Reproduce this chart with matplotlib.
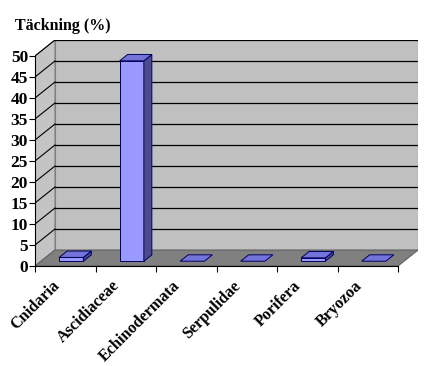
import matplotlib.pyplot as plt
from matplotlib.patches import Polygon

categories = ['Cnidaria', 'Ascidiaceae', 'Echinodermata', 'Serpulidae', 'Porifera', 'Bryozoa']
values = [0.9, 47.7, 0.0, 0.0, 0.8, 0.0]
yticks = list(range(0, 55, 5))

# 3-D depth in data units (x: categories, y: percent)
dx, dy = 0.33, 3.8
n = len(categories)

fig = plt.figure(figsize=(4.28, 3.66), dpi=100)
ax = fig.add_axes([35/428, 100/366, 383/428, 226/366])
ax.set_xlim(0, n + dx)
ax.set_ylim(0, 50 + dy)

# walls and floor
ax.add_patch(Polygon([(dx, dy), (n+dx, dy), (n+dx, 50+dy), (dx, 50+dy)],
                     closed=True, fc='#c0c0c0', ec='#808080', lw=0.8, zorder=0))
ax.add_patch(Polygon([(0, 0), (dx, dy), (dx, 50+dy), (0, 50)],
                     closed=True, fc='#c4c4c4', ec='#808080', lw=0.8, zorder=0))
ax.add_patch(Polygon([(0, 0), (n, 0), (n+dx, dy), (dx, dy)],
                     closed=True, fc='#808080', ec='#606060', lw=0.8, zorder=1))
for v in yticks[1:]:
    ax.plot([dx, n+dx], [v+dy, v+dy], color='black', lw=0.9, zorder=0.5)
    ax.plot([0, dx], [v, v+dy], color='black', lw=0.8, zorder=0.5)

# bars
f0, fd, w = 0.3, 0.4, 0.4
for i, v in enumerate(values):
    x0 = i + 0.5 - w/2 + f0*dx
    b = f0*dy
    ddx, ddy = fd*dx, fd*dy
    if v > 0:
        ax.bar(x0, v, width=w, bottom=b, align='edge', color='#9999ff',
               edgecolor='#000060', lw=0.7, zorder=3)
        ax.add_patch(Polygon([(x0+w, b), (x0+w+ddx, b+ddy), (x0+w+ddx, b+v+ddy), (x0+w, b+v)],
                             closed=True, fc='#4c4c8c', ec='#000060', lw=0.7, zorder=3))
    ax.add_patch(Polygon([(x0, b+v), (x0+w, b+v), (x0+w+ddx, b+v+ddy), (x0+ddx, b+v+ddy)],
                         closed=True, fc='#7373d9', ec='#000060', lw=0.7, zorder=3))

for s in ['top', 'right']:
    ax.spines[s].set_visible(False)
ax.spines['left'].set_bounds(0, 50)
ax.spines['bottom'].set_bounds(0, n)
ax.spines['left'].set_zorder(5)
ax.spines['bottom'].set_zorder(5)

ax.set_yticks(yticks)
ax.set_yticklabels([str(v) for v in yticks], fontfamily='Liberation Serif',
                   fontweight='bold', fontsize=12.5)
ax.tick_params(axis='y', length=4, pad=1)
ax.set_xticks(range(n + 1))
ax.set_xticklabels([''] * (n + 1))
ax.tick_params(axis='x', length=4)
for i, c in enumerate(categories):
    ax.annotate(c, xy=(i + 0.5, 0), xycoords='data', xytext=(-6, -12.5),
                textcoords='offset points', rotation=45, rotation_mode='anchor',
                ha='right', va='center', fontfamily='Liberation Serif',
                fontweight='bold', fontsize=11.7)

fig.text(15/428, 1 - 26/366, 'Täckning (%)', fontfamily='Liberation Serif',
         fontweight='bold', fontsize=11.5, va='center', ha='left')

fig.savefig('out.png', dpi=100)
